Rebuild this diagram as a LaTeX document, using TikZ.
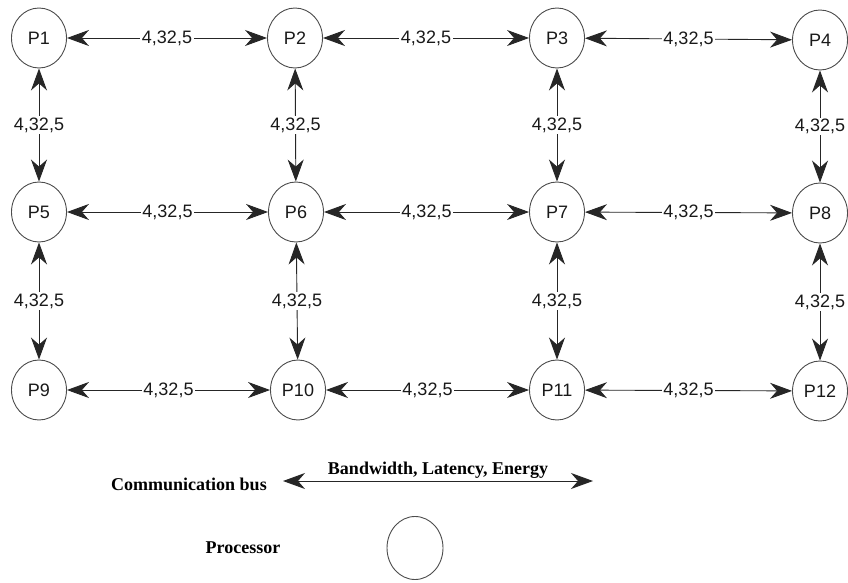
\documentclass[tikz,border=0pt]{standalone}
\usepackage{fontspec}
\setmainfont{Liberation Serif}
\newfontfamily\arialfont{Liberation Sans}
\usetikzlibrary{arrows.meta,shapes.geometric}
\begin{document}
\begin{tikzpicture}[x=1pt,y=-1pt,
  proc/.style={ellipse,draw=black!70,line width=0.9pt,minimum width=55pt,minimum height=60pt,
    inner sep=0pt,font=\arialfont\fontsize{18}{18}\selectfont,text=black!90},
  bus/.style={draw=black!85,line width=0.9pt,{Stealth[length=22pt,width=16pt,inset=7pt]}-{Stealth[length=22pt,width=16pt,inset=7pt]}},
  lbl/.style={fill=white,inner sep=1.5pt,font=\arialfont\fontsize{18}{18}\selectfont,text=black!90},
  legendtext/.style={font=\bfseries\fontsize{18}{18}\selectfont,text=black}]
\useasboundingbox (0,0) rectangle (848,583);

% processors in a 3 x 4 mesh
\node[proc] (P1)  at (39,38)   {P1};
\node[proc] (P2)  at (295,38)  {P2};
\node[proc] (P3)  at (557,38)  {P3};
\node[proc] (P4)  at (820,40)  {P4};
\node[proc] (P5)  at (39,212)  {P5};
\node[proc] (P6)  at (296,212) {P6};
\node[proc] (P7)  at (557,212) {P7};
\node[proc] (P8)  at (820,213) {P8};
\node[proc] (P9)  at (39,390)  {P9};
\node[proc] (P10) at (298,390) {P10};
\node[proc] (P11) at (557,390) {P11};
\node[proc] (P12) at (820,391) {P12};

% horizontal buses
\draw[bus] (P1)  -- node[lbl]{4,32,5} (P2);
\draw[bus] (P2)  -- node[lbl]{4,32,5} (P3);
\draw[bus] (P3)  -- node[lbl]{4,32,5} (P4);
\draw[bus] (P5)  -- node[lbl]{4,32,5} (P6);
\draw[bus] (P6)  -- node[lbl]{4,32,5} (P7);
\draw[bus] (P7)  -- node[lbl]{4,32,5} (P8);
\draw[bus] (P9)  -- node[lbl]{4,32,5} (P10);
\draw[bus] (P10) -- node[lbl]{4,32,5} (P11);
\draw[bus] (P11) -- node[lbl]{4,32,5} (P12);

% vertical buses
\draw[bus] (P1) -- node[lbl]{4,32,5} (P5);
\draw[bus] (P2) -- node[lbl]{4,32,5} (P6);
\draw[bus] (P3) -- node[lbl]{4,32,5} (P7);
\draw[bus] (P4) -- node[lbl]{4,32,5} (P8);
\draw[bus] (P5) -- node[lbl]{4,32,5} (P9);
\draw[bus] (P6) -- node[lbl]{4,32,5} (P10);
\draw[bus] (P7) -- node[lbl]{4,32,5} (P11);
\draw[bus] (P8) -- node[lbl]{4,32,5} (P12);

% legend
\node[legendtext] (busname) at (189,484) {Communication bus};
\coordinate (busL) at (283,481);
\coordinate (busR) at (593,481);
\draw[bus] (busL) -- node[above=2pt,legendtext,inner sep=0pt]{Bandwidth, Latency, Energy} (busR);
\node[legendtext] (procname) at (243,548) {Processor};
\node[proc,minimum width=56pt,minimum height=63pt] (legproc) at (415,548) {};
\end{tikzpicture}
\end{document}
